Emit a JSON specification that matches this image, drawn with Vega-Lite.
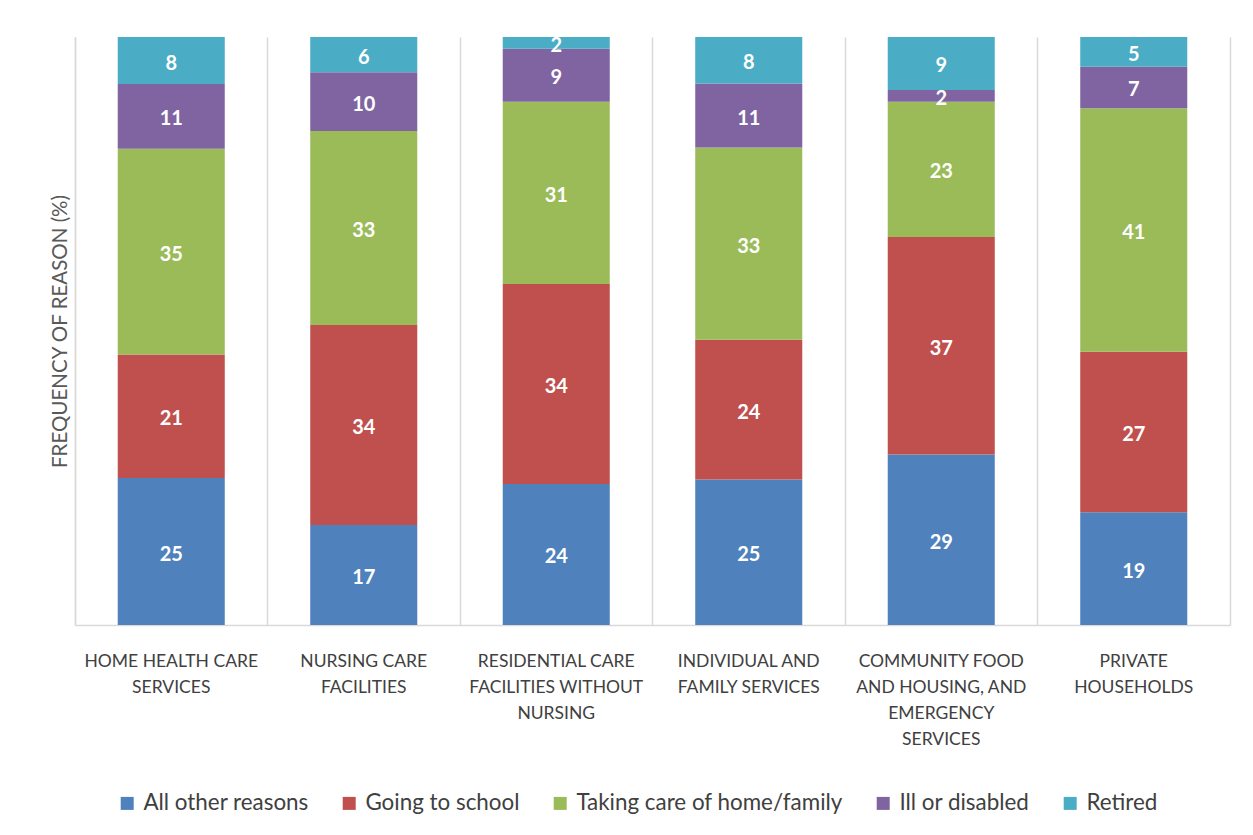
{
  "$schema": "https://vega.github.io/schema/vega-lite/v6.json",
  "width": 1155,
  "height": 588,
  "autosize": {"type": "none"},
  "padding": {"left": 75, "top": 37, "right": 23, "bottom": 210},
  "background": "white",
  "config": {
    "font": "Lato",
    "view": {"stroke": null},
    "axis": {"domainColor": "#d9d9d9", "gridColor": "#d9d9d9", "domainWidth": 1.5, "gridWidth": 1.5}
  },
  "data": {
    "values": [
      {"industry": "HOME HEALTH CARE\nSERVICES", "reason": "All other reasons", "rank": 1, "pct": 25},
      {"industry": "HOME HEALTH CARE\nSERVICES", "reason": "Going to school", "rank": 2, "pct": 21},
      {"industry": "HOME HEALTH CARE\nSERVICES", "reason": "Taking care of home/family", "rank": 3, "pct": 35},
      {"industry": "HOME HEALTH CARE\nSERVICES", "reason": "Ill or disabled", "rank": 4, "pct": 11},
      {"industry": "HOME HEALTH CARE\nSERVICES", "reason": "Retired", "rank": 5, "pct": 8},
      {"industry": "NURSING CARE\nFACILITIES", "reason": "All other reasons", "rank": 1, "pct": 17},
      {"industry": "NURSING CARE\nFACILITIES", "reason": "Going to school", "rank": 2, "pct": 34},
      {"industry": "NURSING CARE\nFACILITIES", "reason": "Taking care of home/family", "rank": 3, "pct": 33},
      {"industry": "NURSING CARE\nFACILITIES", "reason": "Ill or disabled", "rank": 4, "pct": 10},
      {"industry": "NURSING CARE\nFACILITIES", "reason": "Retired", "rank": 5, "pct": 6},
      {"industry": "RESIDENTIAL CARE\nFACILITIES WITHOUT\nNURSING", "reason": "All other reasons", "rank": 1, "pct": 24},
      {"industry": "RESIDENTIAL CARE\nFACILITIES WITHOUT\nNURSING", "reason": "Going to school", "rank": 2, "pct": 34},
      {"industry": "RESIDENTIAL CARE\nFACILITIES WITHOUT\nNURSING", "reason": "Taking care of home/family", "rank": 3, "pct": 31},
      {"industry": "RESIDENTIAL CARE\nFACILITIES WITHOUT\nNURSING", "reason": "Ill or disabled", "rank": 4, "pct": 9},
      {"industry": "RESIDENTIAL CARE\nFACILITIES WITHOUT\nNURSING", "reason": "Retired", "rank": 5, "pct": 2},
      {"industry": "INDIVIDUAL AND\nFAMILY SERVICES", "reason": "All other reasons", "rank": 1, "pct": 25},
      {"industry": "INDIVIDUAL AND\nFAMILY SERVICES", "reason": "Going to school", "rank": 2, "pct": 24},
      {"industry": "INDIVIDUAL AND\nFAMILY SERVICES", "reason": "Taking care of home/family", "rank": 3, "pct": 33},
      {"industry": "INDIVIDUAL AND\nFAMILY SERVICES", "reason": "Ill or disabled", "rank": 4, "pct": 11},
      {"industry": "INDIVIDUAL AND\nFAMILY SERVICES", "reason": "Retired", "rank": 5, "pct": 8},
      {"industry": "COMMUNITY FOOD\nAND HOUSING, AND\nEMERGENCY\nSERVICES", "reason": "All other reasons", "rank": 1, "pct": 29},
      {"industry": "COMMUNITY FOOD\nAND HOUSING, AND\nEMERGENCY\nSERVICES", "reason": "Going to school", "rank": 2, "pct": 37},
      {"industry": "COMMUNITY FOOD\nAND HOUSING, AND\nEMERGENCY\nSERVICES", "reason": "Taking care of home/family", "rank": 3, "pct": 23},
      {"industry": "COMMUNITY FOOD\nAND HOUSING, AND\nEMERGENCY\nSERVICES", "reason": "Ill or disabled", "rank": 4, "pct": 2},
      {"industry": "COMMUNITY FOOD\nAND HOUSING, AND\nEMERGENCY\nSERVICES", "reason": "Retired", "rank": 5, "pct": 9},
      {"industry": "PRIVATE\nHOUSEHOLDS", "reason": "All other reasons", "rank": 1, "pct": 19},
      {"industry": "PRIVATE\nHOUSEHOLDS", "reason": "Going to school", "rank": 2, "pct": 27},
      {"industry": "PRIVATE\nHOUSEHOLDS", "reason": "Taking care of home/family", "rank": 3, "pct": 41},
      {"industry": "PRIVATE\nHOUSEHOLDS", "reason": "Ill or disabled", "rank": 4, "pct": 7},
      {"industry": "PRIVATE\nHOUSEHOLDS", "reason": "Retired", "rank": 5, "pct": 5}
    ]
  },
  "encoding": {
    "x": {
      "field": "industry",
      "type": "nominal",
      "sort": null,
      "scale": {"paddingInner": 0, "paddingOuter": 0},
      "axis": {
        "title": null,
        "labelAngle": 0,
        "labelExpr": "split(datum.label, '\\n')",
        "labelBaseline": "top",
        "labelPadding": 27,
        "labelLineHeight": 26,
        "labelFontSize": 17.5,
        "labelColor": "#404040",
        "labelFont": "Lato",
        "labelLimit": 300,
        "ticks": false,
        "grid": true,
        "bandPosition": 0,
        "domain": true
      }
    }
  },
  "layer": [
    {
      "mark": {"type": "bar", "width": {"band": 0.556}},
      "encoding": {
        "y": {
          "field": "pct",
          "type": "quantitative",
          "stack": "normalize",
          "axis": {
            "title": "FREQUENCY OF REASON (%)",
            "titleFontSize": 20.5,
            "titleFontWeight": "normal",
            "titleColor": "#595959",
            "titlePadding": 5,
            "labels": false,
            "ticks": false,
            "grid": false,
            "domain": true
          }
        },
        "color": {
          "field": "reason",
          "type": "nominal",
          "sort": ["All other reasons", "Going to school", "Taking care of home/family", "Ill or disabled", "Retired"],
          "scale": {
            "domain": ["All other reasons", "Going to school", "Taking care of home/family", "Ill or disabled", "Retired"],
            "range": ["#4F81BD", "#C0504D", "#9BBB59", "#8064A2", "#4BACC6"]
          },
          "legend": {
            "title": null,
            "orient": "none",
            "direction": "horizontal",
            "legendX": 41,
            "legendY": 755,
            "symbolType": "square",
            "symbolSize": 169,
            "symbolStrokeWidth": 0,
            "symbolOpacity": 1,
            "labelFontSize": 22.4,
            "labelColor": "#404040",
            "labelFont": "Lato",
            "labelLimit": 400,
            "labelOffset": 5,
            "columnPadding": 29
          }
        },
        "order": {"field": "rank", "type": "quantitative"}
      }
    },
    {
      "mark": {"type": "text", "color": "white", "fontSize": 20, "fontWeight": "bold", "baseline": "middle", "dy": 3},
      "encoding": {
        "y": {
          "field": "pct",
          "type": "quantitative",
          "stack": "normalize",
          "bandPosition": 0.5,
          "axis": {"orient": "right", "title": null, "labels": false, "ticks": false, "grid": false, "domain": true}
        },
        "detail": {"field": "reason"},
        "text": {"field": "pct", "type": "quantitative"},
        "order": {"field": "rank", "type": "quantitative"}
      }
    }
  ],
  "resolve": {"axis": {"y": "independent"}}
}
